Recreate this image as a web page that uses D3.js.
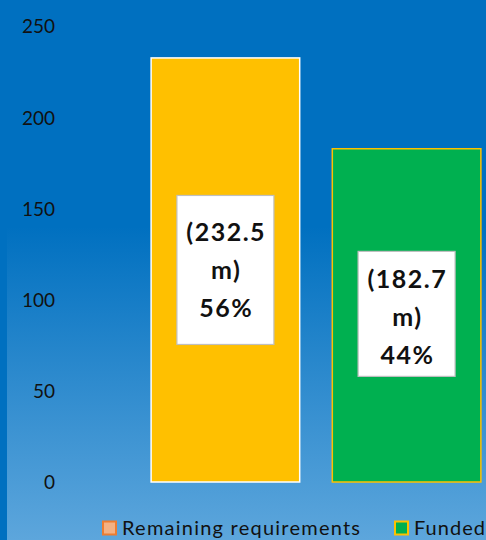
<!DOCTYPE html>
<html>
<head>
<meta charset="utf-8">
<script src="https://cdn.jsdelivr.net/npm/d3@7"></script>
<style>
  html, body { margin: 0; padding: 0; overflow: hidden; }
  svg { display: block; }
</style>
</head>
<body>
<svg id="chart" width="486" height="540"></svg>
<script>
// data
var categories = [ "Remaining requirements", "Funded" ];
var values = [ 232.5, 182.7 ];
var labelLines = [ [ "(232.5", "m)", "56%" ], [ "(182.7", "m)", "44%" ] ];
var yTicks = [ 0, 50, 100, 150, 200, 250 ];

var colors = {
    fill: [ "#FFC000", "#00B050" ],
    stroke: [ "#FFFFFF", "#FFC000" ],
    legendFill: [ "#F4B183", "#00B050" ],
    legendStroke: [ "#ED7D31", "#FFC000" ]
};

var font = "Lato, 'Open Sans', sans-serif";
var svg = d3.select( "#chart" );
var W = 486, H = 540;

// background: flat blue strip on the left, gradient on the rest
var defs = svg.append( "defs" );
var grad = defs.append( "linearGradient" )
    .attr( "id", "bg" ).attr( "x1", 0 ).attr( "y1", 0 ).attr( "x2", 0 ).attr( "y2", 1 );
grad.append( "stop" ).attr( "offset", "0%" ).attr( "stop-color", "#0070C0" );
grad.append( "stop" ).attr( "offset", "42%" ).attr( "stop-color", "#0070C0" );
grad.append( "stop" ).attr( "offset", "100%" ).attr( "stop-color", "#5DA6DC" );

svg.append( "rect" ).attr( "width", W ).attr( "height", H ).attr( "fill", "url(#bg)" );
svg.append( "rect" ).attr( "width", 7 ).attr( "height", H ).attr( "fill", "#0070C0" );

var y = d3.scaleLinear().domain( [ 0, 250 ] ).range( [ 482, 26 ] );
var x = d3.scaleBand().domain( categories ).range( [ 133, 499 ] ).paddingInner( 0.18 ).paddingOuter( 0.1 );

// y axis, labels only
var yAxis = d3.axisLeft( y ).tickValues( yTicks ).tickSize( 0 ).tickPadding( 0 );
var ax = svg.append( "g" )
    .attr( "transform", "translate(55,0)" )
    .call( yAxis );
ax.select( ".domain" ).remove();
ax.selectAll( "text" )
    .attr( "dy", "0.36em" )
    .style( "font-family", font )
    .style( "font-size", "19px" )
    .attr( "fill", "#111" );

// bars
var bars = svg.selectAll( "g.bar" )
    .data( categories )
    .enter().append( "g" )
    .attr( "class", "bar" );

bars.append( "rect" )
    .attr( "x", function ( d ) { return x( d ) } )
    .attr( "width", x.bandwidth() )
    .attr( "y", function ( d, i ) { return y( values[ i ] ) } )
    .attr( "height", function ( d, i ) { return y( 0 ) - y( values[ i ] ) } )
    .attr( "fill", function ( d, i ) { return colors.fill[ i ] } )
    .attr( "stroke", function ( d, i ) { return colors.stroke[ i ] } )
    .attr( "stroke-width", 1.5 );

// data labels in white boxes, centred in the bar
var boxW = 97, boxH = [ 149, 125 ], lineH = 38;
bars.each( function ( d, i ) {
    var g = d3.select( this );
    var cx = x( d ) + x.bandwidth() / 2;
    var cy = ( y( values[ i ] ) + y( 0 ) ) / 2 - ( i === 0 ? 0 : 1.5 );
    g.append( "rect" )
        .attr( "x", cx - boxW / 2 )
        .attr( "y", cy - boxH[ i ] / 2 )
        .attr( "width", boxW )
        .attr( "height", boxH[ i ] )
        .attr( "fill", "#fff" )
        .attr( "stroke", "#BFBFBF" )
        .attr( "stroke-width", 1.2 );
    var ty = cy + ( i === 0 ? 0 : 3 );
    g.selectAll( "text" )
        .data( labelLines[ i ] )
        .enter().append( "text" )
        .attr( "x", cx + 0.8 )
        .attr( "y", function ( t, j ) { return ty + ( j - 1 ) * lineH } )
        .attr( "dy", "0.36em" )
        .attr( "text-anchor", "middle" )
        .style( "font-family", font )
        .style( "font-weight", "bold" )
        .style( "font-size", "25px" )
        .style( "letter-spacing", "1.5px" )
        .attr( "fill", "#111" )
        .text( function ( t ) { return t } );
});

// legend
var legendX = [ 103, 395 ];
var legendW = [ 238, 71 ];
var legend = svg.selectAll( "g.legend" )
    .data( categories )
    .enter().append( "g" )
    .attr( "class", "legend" )
    .attr( "transform", function ( d, i ) { return "translate(" + legendX[ i ] + ",528)" } );
legend.append( "rect" )
    .attr( "x", 0 ).attr( "y", -6.5 )
    .attr( "width", 13 ).attr( "height", 13 )
    .attr( "fill", function ( d, i ) { return colors.legendFill[ i ] } )
    .attr( "stroke", function ( d, i ) { return colors.legendStroke[ i ] } )
    .attr( "stroke-width", 2 );
legend.append( "text" )
    .attr( "x", 19 )
    .attr( "dy", "0.36em" )
    .attr( "textLength", function ( d, i ) { return legendW[ i ] } )
    .attr( "lengthAdjust", "spacing" )
    .style( "font-family", font )
    .style( "font-size", "20px" )
    .attr( "fill", "#111" )
    .text( function ( d ) { return d } );
</script>
</body>
</html>
